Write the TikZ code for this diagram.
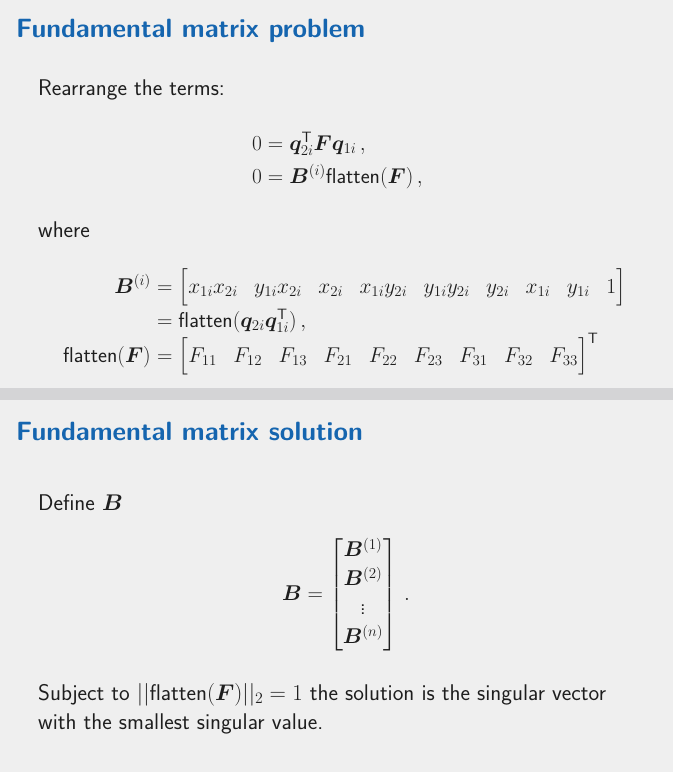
\RequirePackage{fix-cm}
\documentclass[tikz,border=0pt]{standalone}
\usepackage{amsmath,bm}
\usepackage{xcolor}
\definecolor{blocktitle}{HTML}{1565AF}
\definecolor{slidebg}{HTML}{EFEFEF}
\definecolor{blockgap}{HTML}{D4D4D6}
\definecolor{bodytext}{HTML}{1E1E1E}
\usepackage{tikz}
\usetikzlibrary{positioning}
\newcommand{\bodyfont}{\fontsize{22.7}{29}\selectfont\sffamily}
\newcommand{\mathfont}{\fontsize{21.4}{29}\selectfont\sffamily}
\newcommand{\headfont}{\fontsize{26.4}{31}\selectfont\sffamily\bfseries}
\newcommand{\flatop}{\textsf{flatten}}
\newcommand{\trans}{\mathsf{T}}
\setlength{\arraycolsep}{8.2pt}

\begin{document}
\begin{tikzpicture}[
        x=1pt, y=-1pt,
        blockhead/.style={anchor=base west, inner sep=0pt, text=blocktitle, font=\headfont},
        textline/.style={anchor=base west, inner sep=0pt, text=bodytext, font=\bodyfont},
        mathline/.style={anchor=base west, inner sep=0pt, text=bodytext, font=\mathfont},
        lhs/.style={anchor=base east, inner sep=0pt, text=bodytext, font=\mathfont}
    ]
        \useasboundingbox (0,0) rectangle (673,772);
        \fill[slidebg] (0,0) rectangle (673,772);
        \fill[blockgap] (0,388) rectangle (673,400);

        % first block
        \node[blockhead] (probtitle) at (16,37) {Fundamental matrix problem};
        \node[textline] (rearrange) at (38,95) {Rearrange the terms:};
        \node[mathline] (epi) at (252,150) {$0 = \bm{q}_{2i}^{\trans}\bm{F}\bm{q}_{1i}\,,$};
        \node[mathline] (epiflat) at (252,183) {$0 = \bm{B}^{(i)}\flatop(\bm{F})\,,$};
        \node[textline] (where) at (38,237) {where};
        \node[lhs] (bi) at (151,293) {$\bm{B}^{(i)}$};
        \node[mathline] (birow) at (151,293) {${}=\begin{bmatrix} x_{1i}x_{2i} & y_{1i}x_{2i} & x_{2i} & x_{1i}y_{2i} & y_{1i}y_{2i} & y_{2i} & x_{1i} & y_{1i} & 1\end{bmatrix}$};
        \node[mathline] (biflat) at (151,327) {${}=\flatop(\bm{q}_{2i}\bm{q}_{1i}^{\trans})\,,$};
        \node[lhs] (flatf) at (151,362) {$\flatop(\bm{F})$};
        \node[mathline] (frow) at (151,362) {${}=\begin{bmatrix} F_{11} & F_{12} & F_{13} & F_{21} & F_{22} & F_{23} & F_{31} & F_{32} & F_{33}\end{bmatrix}^{\trans}$};

        % second block
        \node[blockhead] (soltitle) at (16,440) {Fundamental matrix solution};
        \node[textline] (define) at (38,510) {Define $\bm{B}$};
        \node[mathline] (bstack) at (282,600) {$\bm{B} = \begin{bmatrix} \bm{B}^{(1)}\\ \bm{B}^{(2)}\\ \vdots\\ \bm{B}^{(n)}\end{bmatrix}\,.$};
        \node[textline] (subject) at (38,700) {Subject to $||\flatop(\bm{F})||_2 = 1$ the solution is the singular vector};
        \node[textline] (smallest) at (38,729) {with the smallest singular value.};
    \end{tikzpicture}
\end{document}
